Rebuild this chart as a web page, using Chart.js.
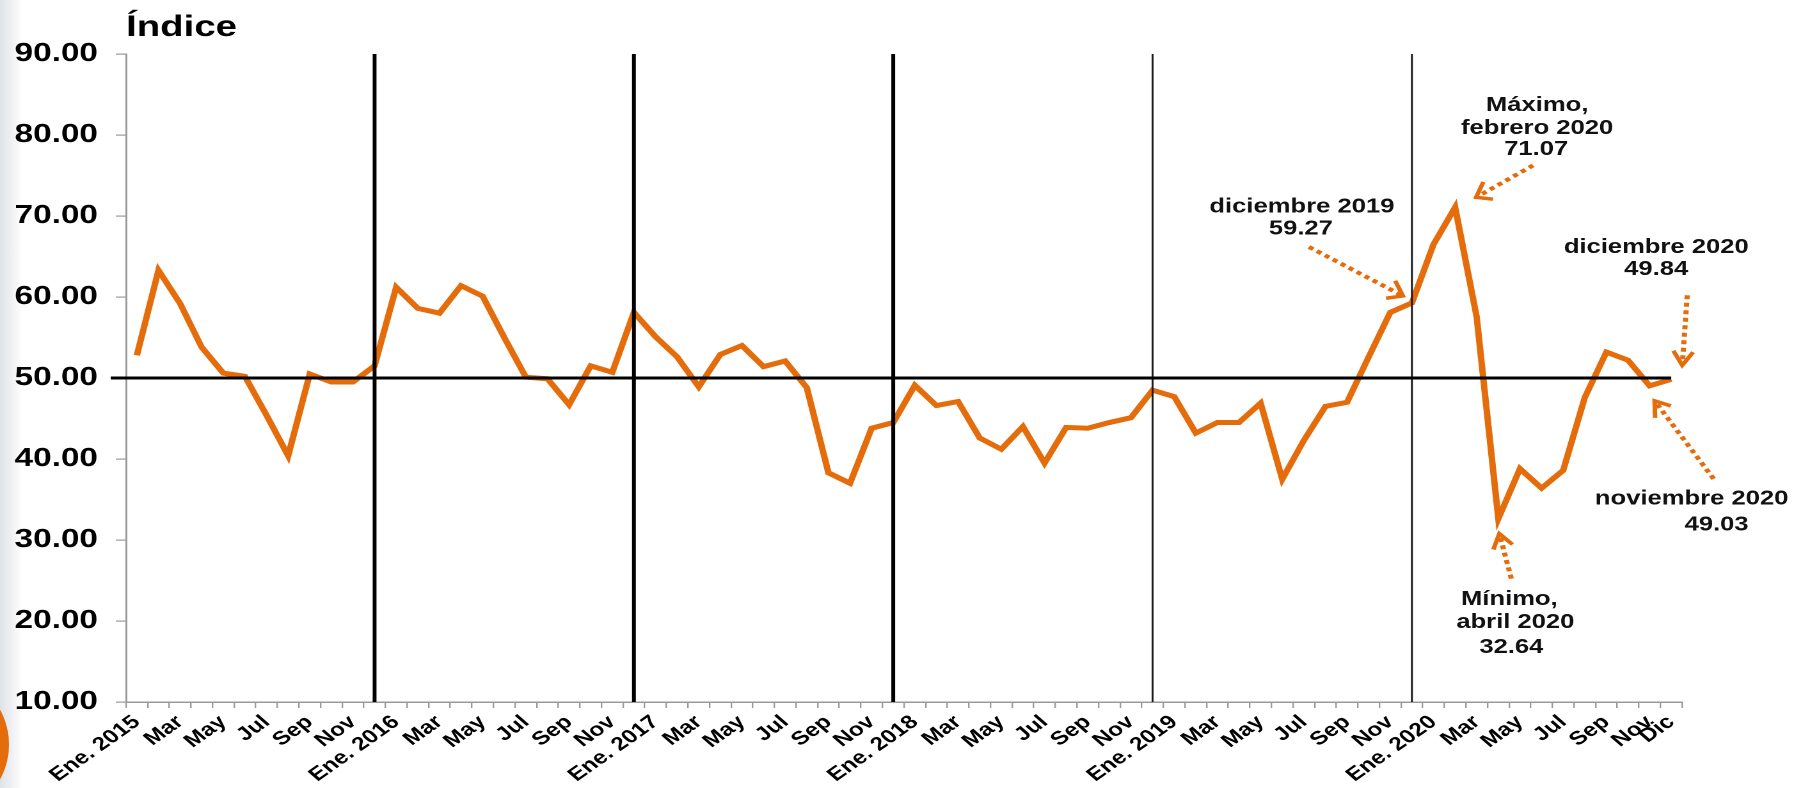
<!DOCTYPE html>
<html lang="es">
<head>
<meta charset="utf-8">
<title>Índice</title>
<script src="https://cdn.jsdelivr.net/npm/chart.js@4.4.1/dist/chart.umd.min.js"></script>
<style>
  html, body { margin: 0; padding: 0; background: #fff; width: 1794px; height: 788px; overflow: hidden; }
  #edge { position: absolute; left: 0; top: 0; width: 22px; height: 788px;
          background: linear-gradient(to right, #dfe3e8 0%, #eceef2 45%, rgba(255,255,255,0) 100%); }
  #stage { position: absolute; left: 0; top: 0; width: 1402px; height: 788px;
           transform: scaleX(1.279600571); transform-origin: 0 0; }
  #dot { position: absolute; left: -136px; top: 672px; width: 145px; height: 145px; border-radius: 50%; background: #e46c0a; }
</style>
</head>
<body>
<div id="edge"></div>
<div id="stage"><canvas id="chart" width="1402" height="788"></canvas></div>
<div id="dot"></div>
<script>
// Monthly index, January 2015 – December 2020
const years  = ['2015', '2016', '2017', '2018', '2019', '2020'];
const months = ['Ene', 'Feb', 'Mar', 'Abr', 'May', 'Jun', 'Jul', 'Ago', 'Sep', 'Oct', 'Nov', 'Dic'];

const v2015 = [52.8, 63.3, 59.2, 53.8, 50.6, 50.2, 45.4, 40.4, 50.5, 49.5, 49.5, 51.5];
const v2016 = [61.2, 58.6, 58.0, 61.4, 60.1, 55.0, 50.1, 49.9, 46.7, 51.5, 50.7, 58.1];
const v2017 = [55.1, 52.6, 48.9, 52.9, 54.0, 51.4, 52.1, 48.8, 38.3, 37.0, 43.8, 44.5];
const v2018 = [49.1, 46.6, 47.1, 42.6, 41.2, 44.0, 39.5, 43.9, 43.8, 44.5, 45.1, 48.5];
const v2019 = [47.7, 43.2, 44.5, 44.5, 46.9, 37.5, 42.3, 46.5, 47.0, 52.6, 58.1, 59.27];
const v2020 = [66.5, 71.07, 57.5, 32.64, 38.8, 36.4, 38.6, 47.6, 53.2, 52.2, 49.03, 49.84];

const yTicks = [10, 20, 30, 40, 50, 60, 70, 80, 90];
const referenceLevel = 50;

const categories = [];
years.forEach(y => months.forEach(m => categories.push(m + ' ' + y)));
const values = [].concat(v2015, v2016, v2017, v2018, v2019, v2020);

// Callouts: label lines (null = the point's own value) and where text and arrow sit
const callouts = [
  { index: 59, lines: [['diciembre 2019', -110, -96], [null, -111, -74]], tail: [-103, -56], head: [-9, -7] },
  { index: 61, lines: [['Máximo,', 82, -102], ['febrero 2020', 82, -79], [null, 81, -58]], tail: [78, -42], head: [21, -10] },
  { index: 63, lines: [['Mínimo,', 11, 81], ['abril 2020', 17, 104], [null, 13, 129]], tail: [13, 60], head: [1, 15] },
  { index: 70, lines: [['noviembre 2020', 42, 113], [null, 67, 139]], tail: [64, 93], head: [5, 15] },
  { index: 71, lines: [['diciembre 2020', -15, -132], [null, -15, -110]], tail: [16, -84], head: [11, -14] }
];

const S = 1794 / 1402;           // horizontal stretch of the stage
const ORANGE = '#e46c0a';
const FONT = '"Liberation Sans", Arial, Helvetica, sans-serif';

function drawArrow(ctx, px, py, tail, head) {
  const tx = px + tail[0] / S, ty = py + tail[1];
  const hx = px + head[0] / S, hy = py + head[1];
  ctx.save();
  ctx.strokeStyle = ORANGE;
  ctx.lineWidth = 4;
  ctx.setLineDash([4, 3.5]);
  ctx.beginPath();
  ctx.moveTo(tx, ty);
  ctx.lineTo(hx, hy);
  ctx.stroke();
  const ang = Math.atan2(hy - ty, (hx - tx) * S);
  const L = 17, a = 0.62;
  ctx.setLineDash([]);
  ctx.lineWidth = 3.5;
  ctx.lineJoin = 'miter';
  ctx.beginPath();
  ctx.moveTo(hx - L * Math.cos(ang - a) / S, hy - L * Math.sin(ang - a));
  ctx.lineTo(hx, hy);
  ctx.lineTo(hx - L * Math.cos(ang + a) / S, hy - L * Math.sin(ang + a));
  ctx.stroke();
  ctx.restore();
}

const overlay = {
  id: 'overlay',
  afterDatasetsDraw(chart) {
    const { ctx, chartArea, scales: { x, y } } = chart;
    ctx.save();
    // December separators between years
    const widths = [3, 3, 3, 1.5, 1.5];
    for (let k = 0; k < years.length - 1; k++) {
      const xp = x.getPixelForValue(12 * k + 11);
      ctx.strokeStyle = k < 3 ? '#000' : '#1a1a1a';
      ctx.lineWidth = widths[k];
      ctx.beginPath();
      ctx.moveTo(xp, y.getPixelForValue(90));
      ctx.lineTo(xp, chartArea.bottom);
      ctx.stroke();
    }
    // reference level
    const yr = y.getPixelForValue(referenceLevel);
    ctx.strokeStyle = '#000';
    ctx.lineWidth = 3;
    ctx.beginPath();
    ctx.moveTo(chartArea.left - 12, yr);
    ctx.lineTo(x.getPixelForValue(values.length - 1), yr);
    ctx.stroke();
    ctx.restore();
  },
  afterDraw(chart) {
    const { ctx, chartArea, scales: { x, y } } = chart;
    ctx.save();
    // axis caption
    ctx.fillStyle = '#000';
    ctx.font = 'bold 30px ' + FONT;
    ctx.textAlign = 'left';
    ctx.textBaseline = 'alphabetic';
    ctx.fillText('Índice', chartArea.left, 36);

    ctx.font = 'bold 20px ' + FONT;
    ctx.textAlign = 'center';
    ctx.textBaseline = 'middle';
    ctx.fillStyle = '#111';
    callouts.forEach(c => {
      const px = x.getPixelForValue(c.index);
      const py = y.getPixelForValue(values[c.index]);
      c.lines.forEach(([t, dx, dy]) => {
        const text = t === null ? values[c.index].toFixed(2) : t;
        ctx.fillText(text, px + dx / S, py + dy);
      });
      drawArrow(ctx, px, py, c.tail, c.head);
    });
    ctx.restore();
  }
};

new Chart(document.getElementById('chart'), {
  type: 'line',
  data: {
    labels: categories,
    datasets: [{
      data: values,
      borderColor: ORANGE,
      borderWidth: 5,
      pointRadius: 0,
      tension: 0,
      fill: false,
      borderJoinStyle: 'miter'
    }]
  },
  options: {
    responsive: false,
    animation: false,
    devicePixelRatio: 2,
    layout: { padding: { left: 0, right: 87.5, top: 54, bottom: 0 } },
    plugins: { legend: { display: false }, tooltip: { enabled: false }, title: { display: false } },
    scales: {
      x: {
        type: 'category',
        offset: true,
        grid: { display: true, offset: true, drawOnChartArea: false, drawTicks: true, tickLength: 6, color: '#9a9a9a', lineWidth: 1.2 },
        border: { display: true, color: '#9a9a9a', width: 1.5 },
        ticks: {
          autoSkip: false, minRotation: 42, maxRotation: 42, padding: 3, color: '#000',
          font: { family: FONT, size: 19, weight: 'bold' },
          callback(value, index) {
            const m = index % 12;
            if (m === 0) return months[0] + '. ' + years[Math.floor(index / 12)];
            if (index % 2 === 0 || index === categories.length - 1) return months[m];
            return '';
          }
        },
        afterFit(axis) { axis.height = 86; }
      },
      y: {
        min: 10, max: 90,
        afterBuildTicks(axis) { axis.ticks = yTicks.map(v => ({ value: v })); },
        grid: { drawOnChartArea: false, drawTicks: true, tickLength: 8, color: '#9a9a9a', lineWidth: 1.2 },
        border: { display: true, color: '#9a9a9a', width: 1.5 },
        ticks: {
          padding: 14, color: '#000',
          font: { family: FONT, size: 26, weight: 'bold' },
          callback: v => Number(v).toFixed(2)
        },
        afterFit(axis) { axis.width = 98.5; }
      }
    }
  },
  plugins: [overlay]
});
</script>
</body>
</html>
